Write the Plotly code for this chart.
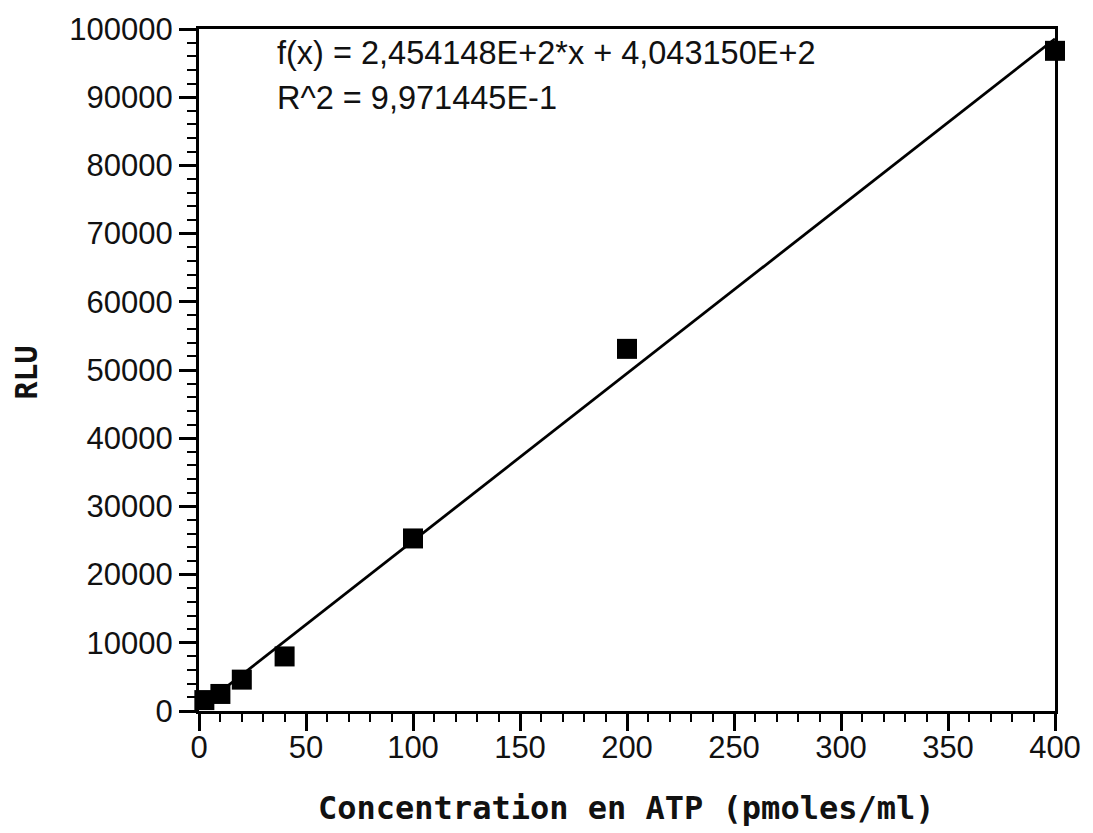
import plotly.graph_objects as go

# Data
atp_conc = [2.5, 10, 20, 40, 100, 200, 400]
rlu = [1600, 2500, 4600, 8000, 25300, 53100, 96800]

# Linear fit shown on the chart
slope = 245.4148
intercept = 404.3150
fit_x = [0, 400]
fit_y = [slope * x + intercept for x in fit_x]

eq_text = "f(x) = 2,454148E+2*x + 4,043150E+2"
r2_text = "R^2 = 9,971445E-1"
x_title = "Concentration en ATP (pmoles/ml)"
y_title = "RLU"

W, H = 1093, 833
# target plot area in screen px: x 199..1060, y 28..711
L, T = 199, 28
R = W - 1060
B = H - 711
pw, ph = W - L - R, H - T - B

def sx(px):
    return (px - L) / pw

def sy(py):
    return (H - B - py) / ph

fig = go.Figure()
fig.add_trace(go.Scatter(x=fit_x, y=fit_y, mode="lines",
                         line=dict(color="black", width=2.8),
                         hoverinfo="skip", cliponaxis=False))
fig.add_trace(go.Scatter(x=atp_conc, y=rlu, mode="markers",
                         marker=dict(symbol="square", size=20, color="black",
                                     line=dict(width=0)),
                         cliponaxis=False))

tickfont = dict(family="Liberation Sans, Arial, sans-serif", size=31, color="#111")
title_font = dict(family="DejaVu Sans Mono, monospace", size=32, color="#111", weight="bold")

fig.update_layout(
    width=W, height=H,
    margin=dict(l=L, r=R, t=T, b=B),
    paper_bgcolor="white", plot_bgcolor="white",
    showlegend=False,
    xaxis=dict(range=[0, 400], dtick=50, tick0=0, showgrid=False, zeroline=False,
               showline=True, linecolor="black", linewidth=3, mirror=True,
               ticks="outside", ticklen=17, tickwidth=2.5, tickcolor="black",
               tickfont=tickfont, ticklabelstandoff=-10,
               minor=dict(dtick=10, ticks="outside", ticklen=8, tickwidth=2,
                          tickcolor="black", showgrid=False)),
    yaxis=dict(range=[0, 100000], dtick=10000, tick0=0, showgrid=False, zeroline=False,
               showline=True, linecolor="black", linewidth=3, mirror=True,
               ticks="outside", ticklen=17, tickwidth=2.5, tickcolor="black",
               tickfont=tickfont, tickformat="d",
               minor=dict(dtick=2000, ticks="outside", ticklen=9, tickwidth=2,
                          tickcolor="black", showgrid=False)),
    annotations=[
        dict(text=eq_text, xref="paper", yref="paper",
             x=sx(275), y=sy(52), xanchor="left", yanchor="middle",
             showarrow=False, font=dict(family="Liberation Sans, Arial, sans-serif", size=32.5, color="#111")),
        dict(text=r2_text, xref="paper", yref="paper",
             x=sx(275), y=sy(97), xanchor="left", yanchor="middle",
             showarrow=False, font=dict(family="Liberation Sans, Arial, sans-serif", size=32.5, color="#111")),
        dict(text=x_title, xref="paper", yref="paper",
             x=sx(629), y=sy(808), xanchor="center", yanchor="middle",
             showarrow=False, font=title_font),
        dict(text=y_title, xref="paper", yref="paper", textangle=-90,
             x=sx(25), y=sy(372), xanchor="center", yanchor="middle",
             showarrow=False,
             font=dict(family="DejaVu Sans Mono, monospace", size=30, color="#111", weight="bold")),
    ],
)

fig.write_html("out.html", config={"displayModeBar": False},
               post_script="document.body.style.margin='0';document.body.style.padding='0';document.body.style.overflow='hidden';")
